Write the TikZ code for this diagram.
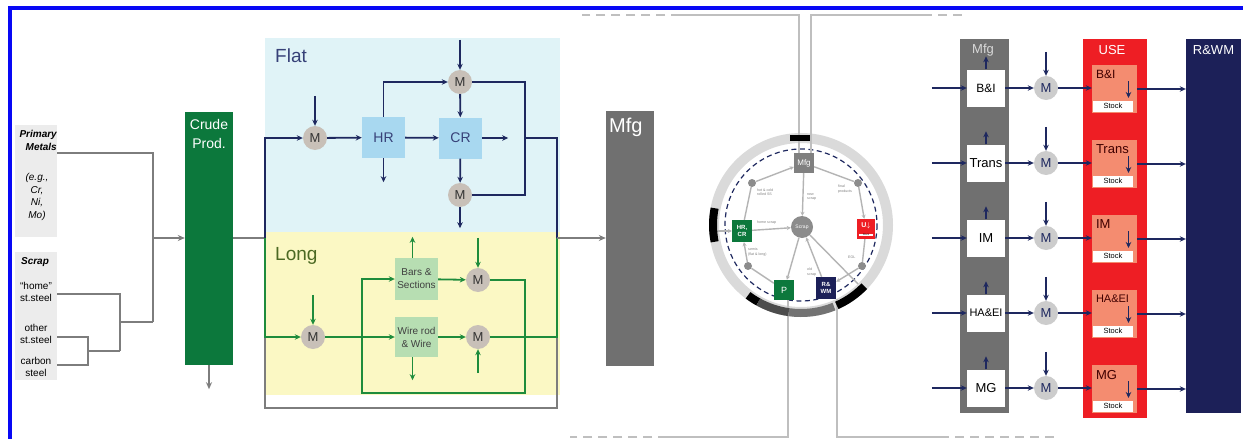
\documentclass[tikz,border=0pt]{standalone}
\usepackage{fontspec}
\setmainfont{Liberation Sans}
\usepackage{tikz}
\usetikzlibrary{positioning, arrows.meta, calc}
\usepackage{xcolor}
\definecolor{frameblue}{RGB}{8, 8, 245}
\definecolor{labelgray}{RGB}{236, 236, 236}
\definecolor{linegray}{RGB}{125, 125, 125}
\definecolor{crudegreen}{RGB}{12, 120, 60}
\definecolor{flatcyan}{RGB}{224, 243, 247}
\definecolor{longyellow}{RGB}{251, 248, 196}
\definecolor{rollblue}{RGB}{168, 216, 240}
\definecolor{barsgreen}{RGB}{183, 222, 178}
\definecolor{mixgray}{RGB}{200, 192, 184}
\definecolor{flownavy}{RGB}{30, 40, 95}
\definecolor{flowgreen}{RGB}{30, 140, 60}
\definecolor{mfggray}{RGB}{112, 112, 112}
\definecolor{usered}{RGB}{238, 30, 36}
\definecolor{usesalmon}{RGB}{244, 140, 112}
\definecolor{rwmnavy}{RGB}{28, 32, 88}
\definecolor{ringgray}{RGB}{218, 218, 218}
\definecolor{netgray}{RGB}{180, 180, 180}
\definecolor{textnavy}{RGB}{55, 65, 120}
\definecolor{textolive}{RGB}{75, 105, 35}
\newcommand{\fsize}[2]{\fontsize{#1}{#2}\selectfont}

\begin{document}
\begin{tikzpicture}[x=1pt, y=-1pt,
    mix/.style={circle, fill=mixgray, minimum size=24pt, inner sep=0pt, font=\fsize{13}{15}, text=black!80},
    roll/.style={rectangle, fill=rollblue, minimum width=43pt, minimum height=41pt, inner sep=0pt, font=\fsize{14}{16}, text=textnavy},
    prodbox/.style={rectangle, fill=barsgreen, minimum width=43pt, minimum height=42pt, inner sep=0pt, align=center, font=\fsize{10}{13}, text=black!75},
    navyflow/.style={-{Stealth[length=6pt, width=5.5pt]}, flownavy, line width=1.8pt},
    navyline/.style={flownavy, line width=1.8pt},
    greenflow/.style={-{Stealth[length=6pt, width=5.5pt]}, flowgreen, line width=1.8pt},
    greenline/.style={flowgreen, line width=1.8pt},
    grayline/.style={linegray, line width=1.6pt},
    grayflow/.style={grayline, -{Stealth[length=7pt, width=6pt]}},
    column/.style={rectangle, minimum width=48pt, inner sep=0pt},
    sector/.style={rectangle, fill=white, minimum width=38pt, minimum height=37pt, inner sep=0pt},
    usebox/.style={rectangle, fill=usesalmon, minimum width=45pt, minimum height=48pt, inner sep=0pt},
    stockbox/.style={rectangle, fill=white, minimum width=40pt, minimum height=11pt, inner sep=0pt, font=\fsize{7.5}{8}},
    umix/.style={circle, fill=black!20, minimum size=24pt, inner sep=0pt, font=\fsize{13}{15}, text=flownavy},
    netflow/.style={-{Stealth[length=4pt, width=4pt]}, netgray, line width=1.4pt},
    netline/.style={netgray, line width=1.4pt},
    netdot/.style={circle, fill=black!45, minimum size=8pt, inner sep=0pt},
    netbox/.style={rectangle, minimum width=20pt, minimum height=20pt, inner sep=0pt, align=center, text=white, font=\fsize{6}{6.5}\bfseries},
    netnote/.style={font=\fsize{3.6}{4.2}, text=black!50, align=left, inner sep=0pt, anchor=west},
    wire/.style={black!25, line width=2.4pt},
    metal/.style={font=\fsize{10}{12}, align=center, inner sep=0pt}
]
    % Frame
    \useasboundingbox (0,0) rectangle (1243,439);
    \fill[white] (0,0) rectangle (1243,439);
    \draw[frameblue, line width=4pt] (10,439) -- (10,8) -- (1243,8);

    % Inputs
    \fill[labelgray] (15,125) rectangle (57,237);
    \fill[labelgray] (15,252) rectangle (57,380);
    \node[metal, anchor=east, align=right, font=\fsize{10}{13}\bfseries\itshape] (prim) at (57,140) {Primary\\Metals};
    \node[metal, font=\fsize{10}{12.7}\itshape] (eg) at (37,197) {(e.g.,\\Cr,\\Ni,\\Mo)};
    \node[metal, font=\fsize{10}{12}\bfseries\itshape] (scrap) at (35,262) {Scrap};
    \node[metal] (home) at (36,292) {``home''\\st.steel};
    \node[metal] (other) at (36,334) {other\\st.steel};
    \node[metal] (carbon) at (36,367) {carbon\\steel};

    \coordinate (pmOut) at (57,153);
    \coordinate (hsOut) at (57,294);
    \coordinate (osOut) at (57,337);
    \coordinate (csOut) at (57,365);
    \coordinate (ocJoin) at (88,351);
    \coordinate (scJoin) at (120,322);
    \coordinate (inJoin) at (153,238);

    % Crude production
    \node[column, fill=crudegreen, minimum height=253pt] (crude) at (209,238.5) {};
    \node[font=\fsize{14}{19}, text=white, align=center, anchor=north] (crudelbl) at (209,116) {Crude\\Prod.};

    \draw[grayline] (osOut) -| (ocJoin) |- (csOut);
    \draw[grayline] (ocJoin) -- (ocJoin -| scJoin);
    \draw[grayline] (hsOut) -| (ocJoin -| scJoin);
    \draw[grayline] (scJoin) -- (scJoin -| inJoin);
    \draw[grayline] (pmOut) -| (scJoin -| inJoin);
    \draw[grayflow] (inJoin) -- (crude.west |- inJoin);
    \draw[grayflow] (crude.south) -- ([yshift=-24pt]crude.south);

    % Flat and long products
    \coordinate (split) at (265,238);
    \coordinate (merge) at (557,238);
    \fill[flatcyan] (265,38) rectangle (560,232);
    \fill[longyellow] (265,232) rectangle (560,395);
    \draw[grayline, line width=1.2pt] (split) -- (265,408) -- (557,408) -- (merge);
    \draw[grayline] (crude.east |- split) -- (split);
    \node[font=\fsize{19}{21}, text=textnavy, anchor=west, inner sep=0pt] (flatlbl) at (275,56) {Flat};
    \node[font=\fsize{19}{21}, text=textolive, anchor=west, inner sep=0pt] (longlbl) at (275,256) {Long};

    \node[mix] (mf1) at (315,138) {M};
    \node[roll] (hr) at (383.5,137.5) {HR};
    \node[roll] (cr) at (460.5,138) {CR};
    \node[mix] (mf2) at (460,82) {M};
    \node[mix] (mf3) at (460,195) {M};
    \coordinate (fjoin) at (525,138);

    \draw[navyflow] (split) |- (mf1);
    \draw[navyflow] ([yshift=30pt]mf1.north) -- (mf1.north);
    \draw[navyflow] (mf1) -- (hr);
    \draw[navyflow] (hr) -- (cr);
    \draw[navyflow] (hr.south) -- ([yshift=-24pt]hr.south);
    \draw[navyflow] (cr.east) -- ([xshift=26pt]cr.east);
    \draw[navyflow] (hr.north) |- (mf2);
    \draw[navyflow] ([yshift=30pt]mf2.north) -- (mf2.north);
    \draw[navyflow] (mf2) -- (cr);
    \draw[navyflow] (cr) -- (mf3);
    \draw[navyflow] (mf3.south) -- ([yshift=-21pt]mf3.south);
    \draw[navyline] (mf2) -| (fjoin) |- (mf3);
    \draw[navyline] (fjoin) -| (merge);

    \node[mix] (ml1) at (313,337) {M};
    \node[prodbox] (bars) at (416.5,279) {Bars \&\\Sections};
    \node[prodbox, minimum height=40pt] (wire) at (416.5,337) {Wire rod\\\& Wire};
    \node[mix] (ml2) at (478,280) {M};
    \node[mix] (ml3) at (478,337) {M};
    \coordinate (lfork) at (362,337);
    \coordinate (ljoin) at (525,337);

    \draw[greenflow] (split) |- (ml1);
    \draw[greenflow] ([yshift=30pt]ml1.north) -- (ml1.north);
    \draw[greenflow] (ml1) -- (wire);
    \draw[greenflow] (lfork) |- (bars);
    \draw[greenline] (lfork) -- ++(0,56) -| (ljoin);
    \draw[greenline] (ml2) -| (ljoin);
    \draw[greenline] (ml3) -| (merge);
    \draw[greenflow] ([xshift=-4pt]bars.north) -- ++(0,-21);
    \draw[greenflow] (bars) -- (ml2);
    \draw[greenflow] ([yshift=30pt]ml2.north) -- (ml2.north);
    \draw[greenflow] ([xshift=-4pt]wire.south) -- ++(0,23);
    \draw[greenflow] (wire) -- (ml3);
    \draw[greenflow] ([yshift=-24pt]ml3.south) -- (ml3.south);

    % Manufacturing
    \node[column, fill=mfggray, minimum height=255pt] (mfg) at (630,238) {};
    \node[font=\fsize{20}{22}, text=white, anchor=north west, inner sep=0pt] (mfglbl) at (609,118) {Mfg};
    \draw[grayflow] (merge) -- (mfg.west |- merge);

    % Cycle overview
    \coordinate (cc) at (801,225);
    \draw[ringgray, line width=10pt] (cc) circle[radius=87];
    \draw[flownavy, line width=1.2pt, dash pattern=on 5pt off 3.5pt] (cc) circle[radius=76];

    \node[netbox, fill=black!50, font=\fsize{8}{9}] (mfgS) at (804,163) {Mfg};
    \node[netdot] (dotTL) at (752,183) {};
    \node[netdot] (dotTR) at (858,183) {};
    \node[netdot] (dotBL) at (748,266) {};
    \node[netdot] (dotBR) at (862,266) {};
    \node[netbox, fill=crudegreen, minimum height=22pt] (hrcr) at (742,231) {HR,\\CR};
    \node[netbox, fill=usered, minimum width=18pt] (ustock) at (866,229) {};
    \node[font=\fsize{7}{8}\bfseries, text=white, inner sep=0pt] (ustockU) at ([yshift=3pt]ustock) {U$\downarrow$};
    \node[fill=white, font=\fsize{2.5}{3}, inner sep=0.5pt, minimum width=14pt] (ustockS) at ([yshift=-6pt]ustock) {Stock};
    \node[circle, fill=black!45, minimum size=22pt, inner sep=0pt, text=white, font=\fsize{5}{6}] (scrapS) at (802,227) {Scrap};
    \node[netbox, fill=crudegreen, font=\fsize{9}{10}] (pS) at (784,290) {P};
    \node[netbox, fill=rwmnavy, minimum height=22pt] (rwmS) at (826,288) {R\&\\WM};
    \coordinate (ringW) at (716,231);
    \coordinate (ringSE) at (858,284);

    \draw[netline] (hrcr) -- (dotTL);
    \draw[netflow] (dotTL) -- (mfgS);
    \draw[netline] (mfgS) -- (dotTR);
    \draw[netflow] (dotTR) -- (ustock);
    \draw[netflow] (mfgS) -- (scrapS);
    \draw[netflow] (hrcr) -- (scrapS);
    \draw[netline] (ustock) -- (dotBR);
    \draw[netflow] (dotBR) -- (rwmS);
    \draw[netflow] (rwmS) -- (scrapS);
    \draw[netflow] (scrapS) -- (pS);
    \draw[netline] (pS) -- (dotBL);
    \draw[netflow] (dotBL) -- (hrcr);
    \draw[netline] (scrapS) -- (ringSE);
    \draw[netflow] (ringW) -- (hrcr);

    \node[netnote] (n1) at (757,192) {hot \& cold\\rolled SS};
    \node[netnote] (n2) at (807,197) {new\\scrap};
    \node[netnote] (n3) at (838,189) {final\\products};
    \node[netnote] (n4) at (757,223) {home scrap};
    \node[netnote] (n5) at (748,252) {semis\\(flat \& long)};
    \node[netnote] (n6) at (807,272) {old\\scrap};
    \node[netnote] (n7) at (848,257) {EOL};

    % Links to the neighbouring views
    \coordinate (topL) at (680,15);
    \coordinate (topR) at (923,15);
    \coordinate (botL) at (667,437);
    \coordinate (botR) at (940,437);
    \draw[wire] ([xshift=-5pt]mfgS.north) |- (topL);
    \draw[wire, dash pattern=on 9pt off 6pt] (topL) -- (582,15);
    \draw[wire] ([xshift=7pt]mfgS.north) |- (topR);
    \draw[wire, dash pattern=on 9pt off 6pt] (topR) -- (965,15);
    \draw[wire] ([xshift=4pt]pS.south) |- (botL);
    \draw[wire, dash pattern=on 9pt off 6pt] (botL) -- (570,437);
    \draw[wire] ([xshift=11pt]rwmS.south) |- (botR);
    \draw[wire, dash pattern=on 9pt off 6pt] (botR) -- (1055,437);

    % Tabs on the ring
    \node[fill=black, minimum width=20pt, minimum height=6pt, inner sep=0pt] (tabTop) at (800,138) {};
    \draw[black, line width=8pt] ([shift={(169:88)}]cc) arc[start angle=169, end angle=191, radius=88];
    \draw[black, line width=8pt] ([shift={(127:88)}]cc) arc[start angle=127, end angle=119, radius=88];
    \draw[black!70, line width=8pt] ([shift={(119:88)}]cc) arc[start angle=119, end angle=98, radius=88];
    \draw[black!55, line width=8pt] ([shift={(98:88)}]cc) arc[start angle=98, end angle=68, radius=88];
    \draw[black, line width=8pt] ([shift={(66:88)}]cc) arc[start angle=66, end angle=44, radius=88];

    % End use
    \node[column, fill=mfggray, minimum width=49pt, minimum height=374pt] (mfgcol) at (984.5,226) {};
    \node[font=\fsize{13}{15}, text=white!85!black] (mfgtop) at (983,50) {Mfg};
    \node[column, fill=usered, minimum width=64pt, minimum height=379pt] (usecol) at (1115,228.5) {};
    \node[font=\fsize{13}{15}, text=white] (usetop) at (1112,50) {USE};
    \node[column, fill=rwmnavy, minimum width=55pt, minimum height=374pt] (rwmcol) at (1213.5,226) {};
    \node[font=\fsize{13}{15}, text=white] (rwmtop) at (1213.5,50) {R\&WM};

    \foreach \lbl/\fsz [count=\i] in {B\&I/12, Trans/13, IM/13, HA\&EI/11, MG/13} {
        \pgfmathsetmacro{\ry}{88+(\i-1)*75}
        \node[sector, font=\fsize{\fsz}{14}] (sec\i) at (986,\ry) {\lbl};
        \draw[navyflow] (sec\i.north) -- ([yshift=13pt]sec\i.north);
        \draw[navyflow] ([xshift=-35pt]sec\i.west) -- (sec\i.west);
        \node[umix] (um\i) at (1046,\ry) {M};
        \draw[navyflow] (sec\i) -- (um\i);
        \draw[navyflow] ([yshift=24pt]um\i.north) -- (um\i.north);
        \node[usebox] (use\i) at (1114.5,\ry+1) {};
        \draw[navyflow] (um\i) -- (use\i.west |- um\i);
        \node[anchor=north west, inner sep=0pt, font=\fsize{\fsz}{14}, text=black!75!red] (ul\i) at ([xshift=4pt, yshift=-5pt]use\i.north west) {\lbl};
        \node[stockbox] (st\i) at (1113,\ry+18) {Stock};
        \draw[navyflow] ([xshift=14pt, yshift=8pt]use\i.center) -- ([xshift=14pt, yshift=-9pt]use\i.center);
        \draw[navyflow] (use\i.east) -- (rwmcol.west |- use\i.east);
    }
\end{tikzpicture}
\end{document}
